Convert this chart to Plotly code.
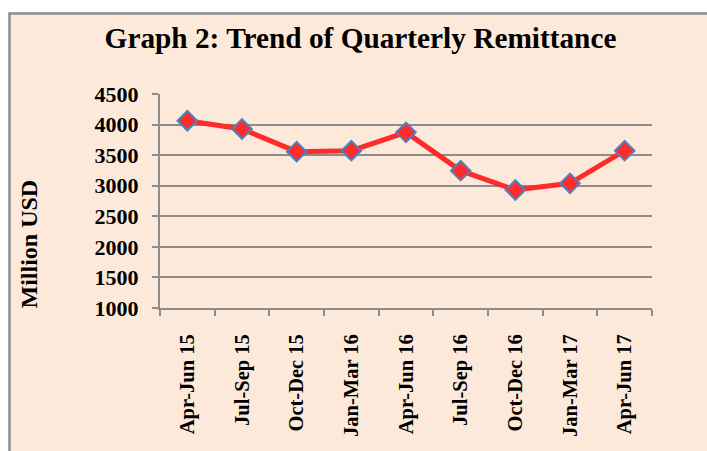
import plotly.graph_objects as go

categories = ["Apr-Jun 15", "Jul-Sep 15", "Oct-Dec 15", "Jan-Mar 16", "Apr-Jun 16",
              "Jul-Sep 16", "Oct-Dec 16", "Jan-Mar 17", "Apr-Jun 17"]
remittance = [4063, 3927, 3557, 3573, 3873, 3246, 2930, 3039, 3573]
y_ticks = [1000, 1500, 2000, 2500, 3000, 3500, 4000, 4500]

W, H = 707, 451
L, R, T, B = 160, 55, 94, 143
pw, ph = W - L - R, H - T - B

FONT = "Liberation Serif, Times New Roman, serif"
PEACH = "#FDE9D9"
GREEN = "#EBF1DE"
GRID = "#8C8C8C"

fig = go.Figure()
fig.add_trace(go.Scatter(
    x=categories, y=remittance, mode="lines+markers",
    line=dict(color="#FF2A2A", width=5),
    marker=dict(symbol="diamond", size=15, color="#FF2A2A",
                line=dict(color="#4F81BD", width=2)),
    showlegend=False,
))

def px2paper_x(px):
    return (px - L) / pw

def px2paper_y(py):
    return 1 - (py - T) / ph

# chart frame: peach fill with grey left and top borders
fig.add_shape(type="rect", xref="paper", yref="paper",
              x0=px2paper_x(9.5), x1=px2paper_x(730),
              y0=px2paper_y(480), y1=px2paper_y(13.5),
              fillcolor=PEACH, line=dict(width=0), layer="below")
fig.add_shape(type="line", xref="paper", yref="paper",
              x0=px2paper_x(9.5), x1=px2paper_x(9.5),
              y0=px2paper_y(480), y1=px2paper_y(12.5),
              line=dict(color="#8C8C8C", width=2.5), layer="below")
fig.add_shape(type="line", xref="paper", yref="paper",
              x0=px2paper_x(8.5), x1=px2paper_x(730),
              y0=px2paper_y(13.5), y1=px2paper_y(13.5),
              line=dict(color="#8C8C8C", width=2.5), layer="below")

fig.add_annotation(text="<b>Million USD</b>", xref="paper", yref="paper",
                   x=px2paper_x(28.5), y=px2paper_y(244), textangle=-90,
                   showarrow=False, xanchor="center", yanchor="middle",
                   font=dict(family=FONT, size=24, color="black"))

fig.update_layout(
    width=W, height=H,
    margin=dict(l=L, r=R, t=T, b=B, pad=0),
    paper_bgcolor="white",
    plot_bgcolor=GREEN,
    title=dict(text="<b>Graph 2: Trend of Quarterly Remittance</b>",
               xref="container", yref="container",
               x=360.5 / W, y=1 - 38 / H,
               xanchor="center", yanchor="middle",
               font=dict(family=FONT, size=29.3, color="black")),
    font=dict(family=FONT, color="black"),
    xaxis=dict(
        type="category", tickangle=-90, tickson="boundaries",
        ticks="outside", ticklen=6, tickcolor=GRID, tickwidth=2,
        showline=True, linecolor=GRID, linewidth=2,
        showgrid=False, zeroline=False,
        tickfont=dict(family=FONT, size=20.5, color="black"),
        tickprefix="<b>", ticksuffix="</b>",
        range=[-0.5, 8.5], ticklabelstandoff=16,
    ),
    yaxis=dict(
        range=[1000, 4500], tickvals=y_ticks,
        ticktext=[f"<b>{v}</b>" for v in y_ticks],
        ticks="outside", ticklen=6, tickcolor=GRID, tickwidth=2,
        showline=True, linecolor=GRID, linewidth=2,
        showgrid=True, gridcolor=GRID, gridwidth=2,
        zeroline=False,
        tickfont=dict(family=FONT, size=22, color="black"),
        ticklabelstandoff=9,
    ),
)

fig.write_html(
    "out.html",
    config={"displayModeBar": False},
    post_script="document.body.style.margin='0';document.body.style.overflow='hidden';",
)
